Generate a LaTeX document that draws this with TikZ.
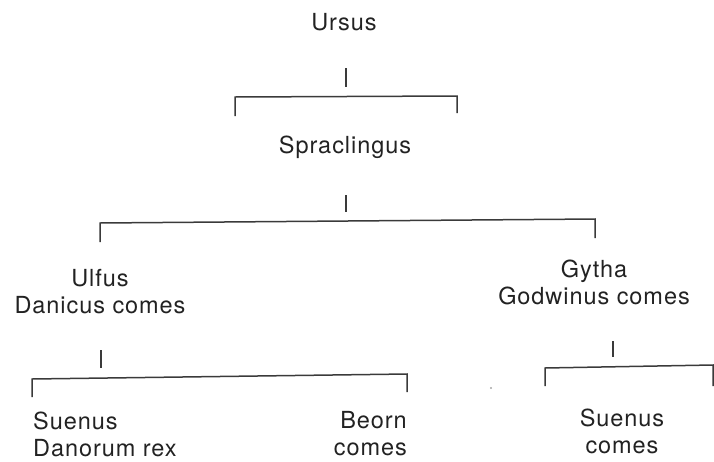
\documentclass[tikz,border=0pt]{standalone}
\usepackage{fontspec}
\setmainfont[LetterSpace=4]{TeX Gyre Heros}
\definecolor{ink}{HTML}{222222}
\definecolor{lineink}{HTML}{3A3A3A}
\begin{document}
\begin{tikzpicture}[x=1pt,y=-1pt,
  lbl/.style={inner sep=0pt,anchor=base,text=ink,font=\fontsize{23.5}{28}\selectfont},
  lbll/.style={lbl,anchor=base west},
  lblr/.style={lbl,anchor=base east},
  conn/.style={draw=lineink,line width=1.5pt,line cap=butt}]
\useasboundingbox (0,0) rectangle (714,461);
% names
\node[lbl] (ursus) at (344,30) {Ursus};
\node[lbl] (sprac) at (345,153) {Spraclingus};
\node[lbl] (ulf1) at (100,286) {Ulfus};
\node[lbl] (ulf2) at (100,313) {Danicus comes};
\node[lbl] (gy1) at (594,277) {Gytha};
\node[lbl] (gy2) at (594,304) {Godwinus comes};
\node[lbll] (su1) at (33,429) {Suenus};
\node[lbll] (su2) at (33,456) {Danorum rex};
\node[lblr] (be1) at (407,428) {Beorn};
\node[lblr] (be2) at (407,455) {comes};
\node[lbl] (sc1) at (622,426) {Suenus};
\node[lbl] (sc2) at (622,453) {comes};
% connector points
\coordinate (t1a) at (346,68);  \coordinate (t1b) at (346,87);
\coordinate (b1l) at (235,97);  \coordinate (b1r) at (457,96);
\coordinate (b1ld) at (235,116); \coordinate (b1rd) at (457,113);
\coordinate (t2a) at (346,195); \coordinate (t2b) at (346,212);
\coordinate (b2l) at (100,223); \coordinate (b2r) at (595,219);
\coordinate (b2ld) at (100,242); \coordinate (b2rd) at (595,238);
\coordinate (t3a) at (101,350); \coordinate (t3b) at (101,368);
\coordinate (b3l) at (32,379);  \coordinate (b3r) at (407,374);
\coordinate (b3ld) at (32,397); \coordinate (b3rd) at (407,392);
\coordinate (t4a) at (613,341); \coordinate (t4b) at (613,357);
\coordinate (b4l) at (545,368); \coordinate (b4r) at (713,365);
\coordinate (b4ld) at (545,386); \coordinate (b4rd) at (713,386);
% brackets
\draw[conn] (t1a) -- (t1b);
\draw[conn] (b1ld) -- (b1l) -- (b1r) -- (b1rd);
\draw[conn] (t2a) -- (t2b);
\draw[conn] (b2ld) -- (b2l) -- (b2r) -- (b2rd);
\draw[conn] (t3a) -- (t3b);
\draw[conn] (b3ld) -- (b3l) -- (b3r) -- (b3rd);
\draw[conn] (t4a) -- (t4b);
\draw[conn] (b4ld) -- (b4l) -- (b4r) -- (b4rd);
% stray dot
\fill[black!35] (491,388) circle (1.2);
\end{tikzpicture}
\end{document}
